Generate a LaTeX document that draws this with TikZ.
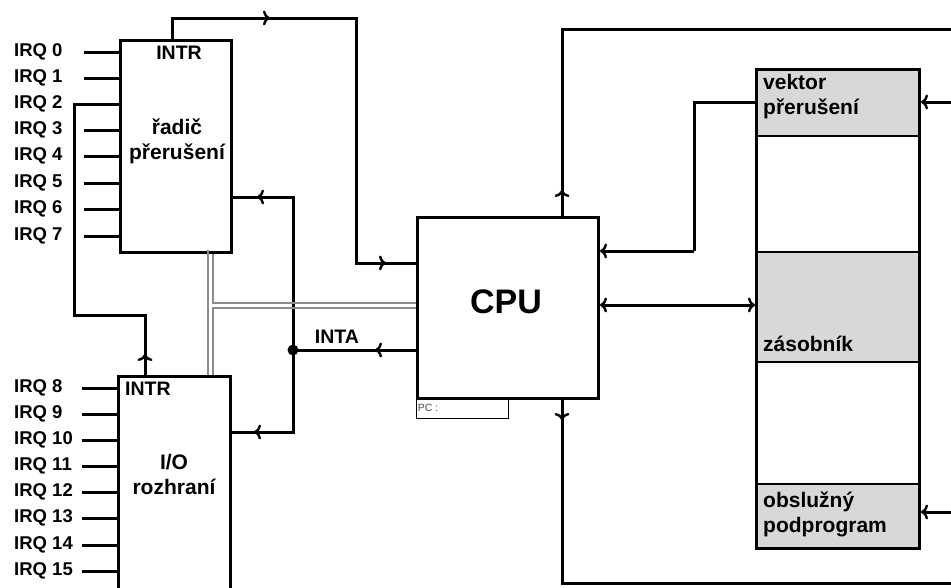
\documentclass[tikz,border=0pt]{standalone}
\usepackage{fontspec}
\setmainfont{Liberation Sans}
\usetikzlibrary{arrows.meta}
\definecolor{memgray}{RGB}{216,216,216}
\definecolor{busgray}{RGB}{140,140,140}
\tikzset{
  head/.tip={Computer Modern Rightarrow[length=7pt,width=15pt,line width=2.4pt]},
  wire/.style={line width=3pt,line join=miter},
  tip/.style={line width=3pt,-head},
  dtip/.style={line width=3pt,head-head},
  blk/.style={draw,line width=3pt,anchor=north west,inner sep=0pt,fill=white},
  sect/.style={draw,line width=1.6pt,anchor=north west,inner sep=0pt,minimum width=163pt},
  irq/.style={font=\bfseries\fontsize{18.5}{20}\selectfont,inner sep=0pt,anchor=west},
  big/.style={font=\bfseries\fontsize{21}{25}\selectfont,inner sep=0pt},
  sig/.style={font=\bfseries\fontsize{19.5}{22}\selectfont,inner sep=0pt},
  bus/.style={draw=busgray,line width=1.8pt},
}
\begin{document}
\begin{tikzpicture}[x=1pt,y=-1pt]
\useasboundingbox (0,0) rectangle (951,587);
\clip (0,0) rectangle (951,587);
\fill[white] (0,0) rectangle (951,587);

% memory sections
\node[sect,fill=memgray,minimum height=67pt] (vec) at (755,68) {};
\node[sect,fill=white,minimum height=116pt] (free1) at (755,135) {};
\node[sect,fill=memgray,minimum height=110pt] (stk) at (755,251) {};
\node[sect,fill=white,minimum height=122pt] (free2) at (755,361) {};
\node[sect,fill=memgray,minimum height=64pt] (isr) at (755,483) {};
\node[draw,line width=3pt,anchor=north west,inner sep=0pt,minimum width=163pt,minimum height=479pt] (mem) at (755,68) {};

% boxes
\node[blk,minimum width=111pt,minimum height=212pt] (ctl) at (119,39) {};
\node[blk,minimum width=112pt,minimum height=230pt] (io) at (117,375) {};
\node[blk,minimum width=181pt,minimum height=181pt] (cpu) at (416,216) {};
\node[draw,line width=1.4pt,anchor=north west,inner sep=0pt,minimum width=92pt,minimum height=21pt] (pc) at (416,397) {};

% texts
\node[sig] (ctlintr) at (179,53) {INTR};
\node[big,align=center] (ctltxt) at (177,141) {řadič\\přerušení};
\node[sig,anchor=west] (iointr) at (125,389) {INTR};
\node[big,align=center] (iotxt) at (174,474) {I/O\\rozhraní};
\node[font=\bfseries\fontsize{34}{36}\selectfont,inner sep=0pt] (cputxt) at (506,302) {CPU};
\node[font=\fontsize{10.5}{12}\selectfont,text=black!70,inner sep=0pt,anchor=west] (pctxt) at (pc.west) {\,PC :};
\node[big,align=left,anchor=west] (vectxt) at (763,97) {vektor\\přerušení};
\node[big,anchor=base west] (stktxt) at (763,351) {zásobník};
\node[big,align=left,anchor=west] (isrtxt) at (763,514) {obslužný\\podprogram};
\node[sig] (inta) at (337,337) {INTA};

% IRQ lines
\foreach \n/\y in {0/52,1/78,3/130,4/156,5/183,6/209,7/236}{
  \node[irq] (irq\n) at (14,\y) {IRQ \n};
  \coordinate (s\n) at (84,\y);
  \draw[wire] (s\n) -- (ctl.west |- s\n);
}
\node[irq] (irq2) at (14,104) {IRQ 2};
\foreach \n/\y in {8/388,9/414,10/440,11/466,12/492,13/518,14/545,15/571}{
  \node[irq] (irq\n) at (14,\y) {IRQ \n};
  \coordinate (s\n) at (82,\y);
  \draw[wire] (s\n) -- (io.west |- s\n);
}

% cascade IRQ2 <- INTR of I/O
\coordinate (q1) at (74,104);
\coordinate (q2) at (74,315);
\coordinate (q3) at (145,315);
\coordinate (qa) at (145,354);
\draw[wire] (ctl.west |- q1) -- (q1) -- (q2) -- (q3) -- (io.north -| q3);
\draw[tip] (io.north -| q3) -- (qa);

% INTR controller -> CPU
\coordinate (t1) at (172,18);
\coordinate (t2) at (356,18);
\coordinate (t3) at (356,263);
\coordinate (ta) at (270,18);
\coordinate (tb) at (386,263);
\draw[wire] (ctl.north -| t1) -- (t1) -- (t2) -- (t3) -- (cpu.west |- t3);
\draw[tip] (t1) -- (ta);
\draw[tip] (t3) -- (tb);

% INTA
\coordinate (dot) at (293,350);
\coordinate (i1) at (293,197);
\coordinate (i2) at (293,432);
\coordinate (ia) at (375,350);
\coordinate (ib) at (257,197);
\coordinate (ic) at (254,432);
\draw[wire] (cpu.west |- dot) -- (dot);
\draw[wire] (ctl.east |- i1) -- (i1) -- (i2) -- (io.east |- i2);
\draw[tip] (cpu.west |- dot) -- (ia);
\draw[tip] (i1) -- (ib);
\draw[tip] (i2) -- (ic);
\fill (dot) circle (5.5pt);

% bus (gray double line)
\coordinate (b1) at (208,250);
\coordinate (b2) at (213,303);
\coordinate (b3) at (213,308);
\draw[bus] (b1) -- (b1 |- io.north);
\draw[bus] (ctl.south -| b2) -- (b2) -- (cpu.west |- b2);
\draw[bus] (io.north -| b3) -- (b3) -- (cpu.west |- b3);

% CPU top / bottom
\coordinate (u1) at (562,29);
\coordinate (u2) at (955,29);
\coordinate (ua) at (562,190);
\draw[wire] (cpu.north -| u1) -- (u1) -- (u2);
\draw[tip] (cpu.north -| u1) -- (ua);
\coordinate (d1) at (562,583);
\coordinate (d2) at (955,583);
\coordinate (da) at (562,420);
\draw[wire] (cpu.south -| d1) -- (d1) -- (d2);
\draw[tip] (cpu.south -| d1) -- (da);

% vector -> CPU
\coordinate (v1) at (694,102);
\coordinate (v2) at (694,251);
\draw[wire] (mem.west |- v1) -- (v1) -- (v2);
\draw[tip] (v2) -- (cpu.east |- v2);

% CPU <-> stack
\coordinate (w1) at (650,305);
\draw[dtip] (cpu.east |- w1) -- (mem.west |- w1);

% right side inputs
\coordinate (r1) at (955,102);
\coordinate (r2) at (955,512);
\draw[tip] (r1) -- (mem.east |- r1);
\draw[tip] (r2) -- (mem.east |- r2);
\end{tikzpicture}
\end{document}
